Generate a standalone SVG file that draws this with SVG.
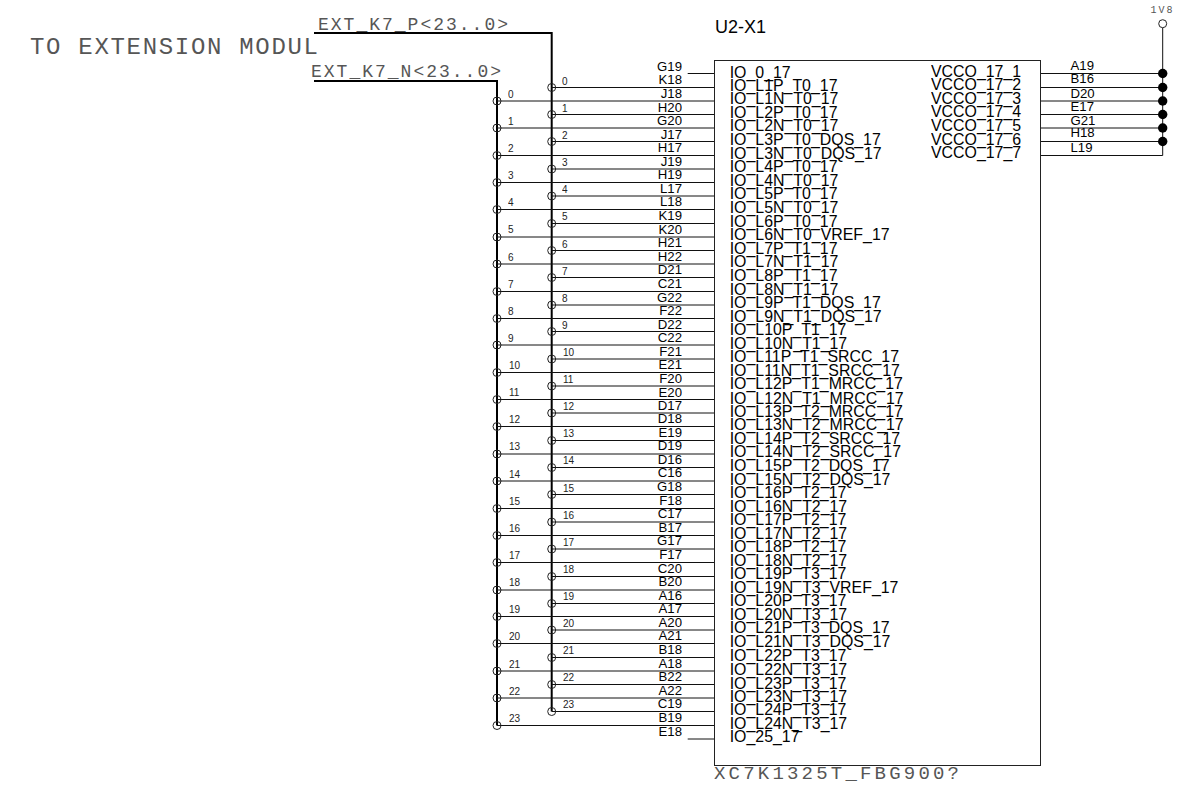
<svg xmlns="http://www.w3.org/2000/svg" width="1192" height="787" viewBox="0 0 1192 787">
<style>
text{font-family:"Liberation Sans",Arial,sans-serif;fill:#000;opacity:.99}
.v{font-family:"Liberation Mono","Courier New",monospace;fill:#555}
.io{font-size:15.9px}
.pin{font-size:13.2px;text-anchor:end}
.pr{font-size:13.2px}
.bit{font-size:10px;fill:#222}
.w{fill:none;stroke:#111;stroke-width:1}
.bus{fill:none;stroke:#000;stroke-width:2}
.tap{fill:none;stroke:#222;stroke-width:1}
</style>
<defs><circle id="t" r="4" class="tap"/></defs>
<rect width="1192" height="787" fill="#fff"/>
<g id="title"><text class="v" x="30" y="54" font-size="24" textLength="288" lengthAdjust="spacing">TO EXTENSION MODUL</text></g>
<g id="net-p"><text class="v" x="318" y="29.5" font-size="18" textLength="190" lengthAdjust="spacing">EXT_K7_P&lt;23..0&gt;</text></g>
<g id="net-n"><text class="v" x="311" y="76.5" font-size="18" textLength="190" lengthAdjust="spacing">EXT_K7_N&lt;23..0&gt;</text></g>
<g id="connectors">
<path class="bus" d="M314 33H551.7V711.5M314 81H497V725.5"/>
<path class="w" d="M687.7 73.5H714.5M551.7 87.5H714.5M497 101H714.5M551.7 114.5H714.5M497 128H714.5M551.7 141.5H714.5M497 155.5H714.5M551.7 169H714.5M497 182.5H714.5M551.7 196H714.5M497 209.5H714.5M551.7 223.5H714.5M497 237H714.5M551.7 250.5H714.5M497 264H714.5M551.7 277.5H714.5M497 291.5H714.5M551.7 305H714.5M497 318.5H714.5M551.7 331.5H714.5M497 345H714.5M551.7 359H714.5M497 372.5H714.5M551.7 386H714.5M497 399.5H714.5M551.7 413H714.5M497 426.5H714.5M551.7 440.5H714.5M497 454H714.5M551.7 467.5H714.5M497 481H714.5M551.7 494.5H714.5M497 508.5H714.5M551.7 522H714.5M497 535.5H714.5M551.7 549H714.5M497 562.5H714.5M551.7 576.5H714.5M497 590H714.5M551.7 603.5H714.5M497 616.5H714.5M551.7 630H714.5M497 643.5H714.5M551.7 657.5H714.5M497 671H714.5M551.7 684.5H714.5M497 698H714.5M551.7 711.5H714.5M497 725.5H714.5M687.7 739H714.5"/>
<path class="w" d="M1040.5 73.5H1162.7M1040.5 87.5H1162.7M1040.5 101H1162.7M1040.5 114.5H1162.7M1040.5 128H1162.7M1040.5 141.5H1162.7M1040.5 155.5H1162.7V27.7"/>
<g fill="#000"><circle cx="1162.7" cy="73.5" r="4.7"/><circle cx="1162.7" cy="87.5" r="4.7"/><circle cx="1162.7" cy="101" r="4.7"/><circle cx="1162.7" cy="114.5" r="4.7"/><circle cx="1162.7" cy="128" r="4.7"/><circle cx="1162.7" cy="141.5" r="4.7"/></g>
<g id="taps-p"><use href="#t" x="551.7" y="87.5"/><use href="#t" x="551.7" y="114.5"/><use href="#t" x="551.7" y="141.5"/><use href="#t" x="551.7" y="169"/><use href="#t" x="551.7" y="196"/><use href="#t" x="551.7" y="223.5"/><use href="#t" x="551.7" y="250.5"/><use href="#t" x="551.7" y="277.5"/><use href="#t" x="551.7" y="305"/><use href="#t" x="551.7" y="331.5"/><use href="#t" x="551.7" y="359"/><use href="#t" x="551.7" y="386"/><use href="#t" x="551.7" y="413"/><use href="#t" x="551.7" y="440.5"/><use href="#t" x="551.7" y="467.5"/><use href="#t" x="551.7" y="494.5"/><use href="#t" x="551.7" y="522"/><use href="#t" x="551.7" y="549"/><use href="#t" x="551.7" y="576.5"/><use href="#t" x="551.7" y="603.5"/><use href="#t" x="551.7" y="630"/><use href="#t" x="551.7" y="657.5"/><use href="#t" x="551.7" y="684.5"/><use href="#t" x="551.7" y="711.5"/></g>
<g id="taps-n"><use href="#t" x="497" y="101"/><use href="#t" x="497" y="128"/><use href="#t" x="497" y="155.5"/><use href="#t" x="497" y="182.5"/><use href="#t" x="497" y="209.5"/><use href="#t" x="497" y="237"/><use href="#t" x="497" y="264"/><use href="#t" x="497" y="291.5"/><use href="#t" x="497" y="318.5"/><use href="#t" x="497" y="345"/><use href="#t" x="497" y="372.5"/><use href="#t" x="497" y="399.5"/><use href="#t" x="497" y="426.5"/><use href="#t" x="497" y="454"/><use href="#t" x="497" y="481"/><use href="#t" x="497" y="508.5"/><use href="#t" x="497" y="535.5"/><use href="#t" x="497" y="562.5"/><use href="#t" x="497" y="590"/><use href="#t" x="497" y="616.5"/><use href="#t" x="497" y="643.5"/><use href="#t" x="497" y="671"/><use href="#t" x="497" y="698"/><use href="#t" x="497" y="725.5"/></g>
</g>
<g id="bits-p" class="bit"><text class="bit" x="562" y="85">0</text><text class="bit" x="562" y="112">1</text><text class="bit" x="562" y="139">2</text><text class="bit" x="562" y="166">3</text><text class="bit" x="562" y="193">4</text><text class="bit" x="562" y="220">5</text><text class="bit" x="562" y="248">6</text><text class="bit" x="562" y="275">7</text><text class="bit" x="562" y="302">8</text><text class="bit" x="562" y="329">9</text><text class="bit" x="563" y="356">10</text><text class="bit" x="563" y="383">11</text><text class="bit" x="563" y="410">12</text><text class="bit" x="563" y="437">13</text><text class="bit" x="563" y="464">14</text><text class="bit" x="563" y="492">15</text><text class="bit" x="563" y="519">16</text><text class="bit" x="563" y="546">17</text><text class="bit" x="563" y="573">18</text><text class="bit" x="563" y="600">19</text><text class="bit" x="563" y="627">20</text><text class="bit" x="563" y="654">21</text><text class="bit" x="563" y="681">22</text><text class="bit" x="563" y="708">23</text></g>
<g id="bits-n"><text class="bit" x="508" y="98">0</text><text class="bit" x="508" y="125">1</text><text class="bit" x="508" y="152">2</text><text class="bit" x="508" y="179">3</text><text class="bit" x="508" y="206">4</text><text class="bit" x="508" y="233">5</text><text class="bit" x="508" y="261">6</text><text class="bit" x="508" y="288">7</text><text class="bit" x="508" y="315">8</text><text class="bit" x="508" y="342">9</text><text class="bit" x="509" y="369">10</text><text class="bit" x="509" y="396">11</text><text class="bit" x="509" y="423">12</text><text class="bit" x="509" y="450">13</text><text class="bit" x="509" y="478">14</text><text class="bit" x="509" y="505">15</text><text class="bit" x="509" y="532">16</text><text class="bit" x="509" y="559">17</text><text class="bit" x="509" y="586">18</text><text class="bit" x="509" y="613">19</text><text class="bit" x="509" y="640">20</text><text class="bit" x="509" y="668">21</text><text class="bit" x="509" y="695">22</text><text class="bit" x="509" y="722">23</text></g>
<g id="U2-X1">
<rect x="714.5" y="60.5" width="326" height="705" fill="none" stroke="#222"/>
<text x="715" y="33" font-size="18">U2-X1</text>
<text class="v" x="714" y="779" font-size="19" textLength="245" lengthAdjust="spacing">XC7K1325T_FBG900?</text>
<g class="pins"><text class="pin" x="682" y="71">G19</text><text class="pin" x="682" y="84">K18</text><text class="pin" x="682" y="98">J18</text><text class="pin" x="682" y="112">H20</text><text class="pin" x="682" y="125">G20</text><text class="pin" x="682" y="139">J17</text><text class="pin" x="682" y="152">H17</text><text class="pin" x="682" y="166">J19</text><text class="pin" x="682" y="179">H19</text><text class="pin" x="682" y="193">L17</text><text class="pin" x="682" y="206">L18</text><text class="pin" x="682" y="220">K19</text><text class="pin" x="682" y="234">K20</text><text class="pin" x="682" y="247">H21</text><text class="pin" x="682" y="261">H22</text><text class="pin" x="682" y="274">D21</text><text class="pin" x="682" y="288">C21</text><text class="pin" x="682" y="302">G22</text><text class="pin" x="682" y="315">F22</text><text class="pin" x="682" y="329">D22</text><text class="pin" x="682" y="342">C22</text><text class="pin" x="682" y="356">F21</text><text class="pin" x="682" y="369">E21</text><text class="pin" x="682" y="383">F20</text><text class="pin" x="682" y="397">E20</text><text class="pin" x="682" y="410">D17</text><text class="pin" x="682" y="423">D18</text><text class="pin" x="682" y="437">E19</text><text class="pin" x="682" y="450">D19</text><text class="pin" x="682" y="464">D16</text><text class="pin" x="682" y="477">C16</text><text class="pin" x="682" y="491">G18</text><text class="pin" x="682" y="505">F18</text><text class="pin" x="682" y="518">C17</text><text class="pin" x="682" y="532">B17</text><text class="pin" x="682" y="545">G17</text><text class="pin" x="682" y="559">F17</text><text class="pin" x="682" y="573">C20</text><text class="pin" x="682" y="586">B20</text><text class="pin" x="682" y="600">A16</text><text class="pin" x="682" y="613">A17</text><text class="pin" x="682" y="627">A20</text><text class="pin" x="682" y="640">A21</text><text class="pin" x="682" y="654">B18</text><text class="pin" x="682" y="668">A18</text><text class="pin" x="682" y="681">B22</text><text class="pin" x="682" y="695">A22</text><text class="pin" x="682" y="708">C19</text><text class="pin" x="682" y="722">B19</text><text class="pin" x="682" y="736">E18</text></g>
<g class="ios"><text class="io" x="729.7" y="78">IO_0_17</text><text class="io" x="729.7" y="91">IO_L1P_T0_17</text><text class="io" x="729.7" y="104">IO_L1N_T0_17</text><text class="io" x="729.7" y="118">IO_L2P_T0_17</text><text class="io" x="729.7" y="131">IO_L2N_T0_17</text><text class="io" x="729.7" y="145">IO_L3P_T0_DQS_17</text><text class="io" x="729.7" y="159">IO_L3N_T0_DQS_17</text><text class="io" x="729.7" y="172">IO_L4P_T0_17</text><text class="io" x="729.7" y="186">IO_L4N_T0_17</text><text class="io" x="729.7" y="199">IO_L5P_T0_17</text><text class="io" x="729.7" y="213">IO_L5N_T0_17</text><text class="io" x="729.7" y="227">IO_L6P_T0_17</text><text class="io" x="729.7" y="240">IO_L6N_T0_VREF_17</text><text class="io" x="729.7" y="254">IO_L7P_T1_17</text><text class="io" x="729.7" y="267">IO_L7N_T1_17</text><text class="io" x="729.7" y="281">IO_L8P_T1_17</text><text class="io" x="729.7" y="295">IO_L8N_T1_17</text><text class="io" x="729.7" y="308">IO_L9P_T1_DQS_17</text><text class="io" x="729.7" y="322">IO_L9N_T1_DQS_17</text><text class="io" x="729.7" y="335">IO_L10P_T1_17</text><text class="io" x="729.7" y="349">IO_L10N_T1_17</text><text class="io" x="729.7" y="362">IO_L11P_T1_SRCC_17</text><text class="io" x="729.7" y="376">IO_L11N_T1_SRCC_17</text><text class="io" x="729.7" y="389">IO_L12P_T1_MRCC_17</text><text class="io" x="729.7" y="404">IO_L12N_T1_MRCC_17</text><text class="io" x="729.7" y="417">IO_L13P_T2_MRCC_17</text><text class="io" x="729.7" y="430">IO_L13N_T2_MRCC_17</text><text class="io" x="729.7" y="444">IO_L14P_T2_SRCC_17</text><text class="io" x="729.7" y="457">IO_L14N_T2_SRCC_17</text><text class="io" x="729.7" y="471">IO_L15P_T2_DQS_17</text><text class="io" x="729.7" y="485">IO_L15N_T2_DQS_17</text><text class="io" x="729.7" y="498">IO_L16P_T2_17</text><text class="io" x="729.7" y="512">IO_L16N_T2_17</text><text class="io" x="729.7" y="525">IO_L17P_T2_17</text><text class="io" x="729.7" y="539">IO_L17N_T2_17</text><text class="io" x="729.7" y="552">IO_L18P_T2_17</text><text class="io" x="729.7" y="566">IO_L18N_T2_17</text><text class="io" x="729.7" y="579">IO_L19P_T3_17</text><text class="io" x="729.7" y="593">IO_L19N_T3_VREF_17</text><text class="io" x="729.7" y="606">IO_L20P_T3_17</text><text class="io" x="729.7" y="620">IO_L20N_T3_17</text><text class="io" x="729.7" y="633">IO_L21P_T3_DQS_17</text><text class="io" x="729.7" y="647">IO_L21N_T3_DQS_17</text><text class="io" x="729.7" y="661">IO_L22P_T3_17</text><text class="io" x="729.7" y="675">IO_L22N_T3_17</text><text class="io" x="729.7" y="689">IO_L23P_T3_17</text><text class="io" x="729.7" y="702">IO_L23N_T3_17</text><text class="io" x="729.7" y="715">IO_L24P_T3_17</text><text class="io" x="729.7" y="729">IO_L24N_T3_17</text><text class="io" x="729.7" y="742">IO_25_17</text></g>
<g class="vcc"><text class="io" x="931" y="77">VCCO_17_1</text><text class="io" x="931" y="90">VCCO_17_2</text><text class="io" x="931" y="104">VCCO_17_3</text><text class="io" x="931" y="117">VCCO_17_4</text><text class="io" x="931" y="131">VCCO_17_5</text><text class="io" x="931" y="145">VCCO_17_6</text><text class="io" x="931" y="158">VCCO_17_7</text></g>
<g class="pinsr"><text class="pr" x="1070.5" y="70">A19</text><text class="pr" x="1070.5" y="83">B16</text><text class="pr" x="1070.5" y="98">D20</text><text class="pr" x="1070.5" y="111">E17</text><text class="pr" x="1070.5" y="125">G21</text><text class="pr" x="1070.5" y="137">H18</text><text class="pr" x="1070.5" y="152">L19</text></g>
</g>
<g id="power-1V8">
<circle cx="1162.7" cy="23.7" r="4" fill="#fff" stroke="#222"/>
<text class="v" x="1150.5" y="12.5" font-size="10" textLength="22" lengthAdjust="spacing">1V8</text>
</g>
</svg>
